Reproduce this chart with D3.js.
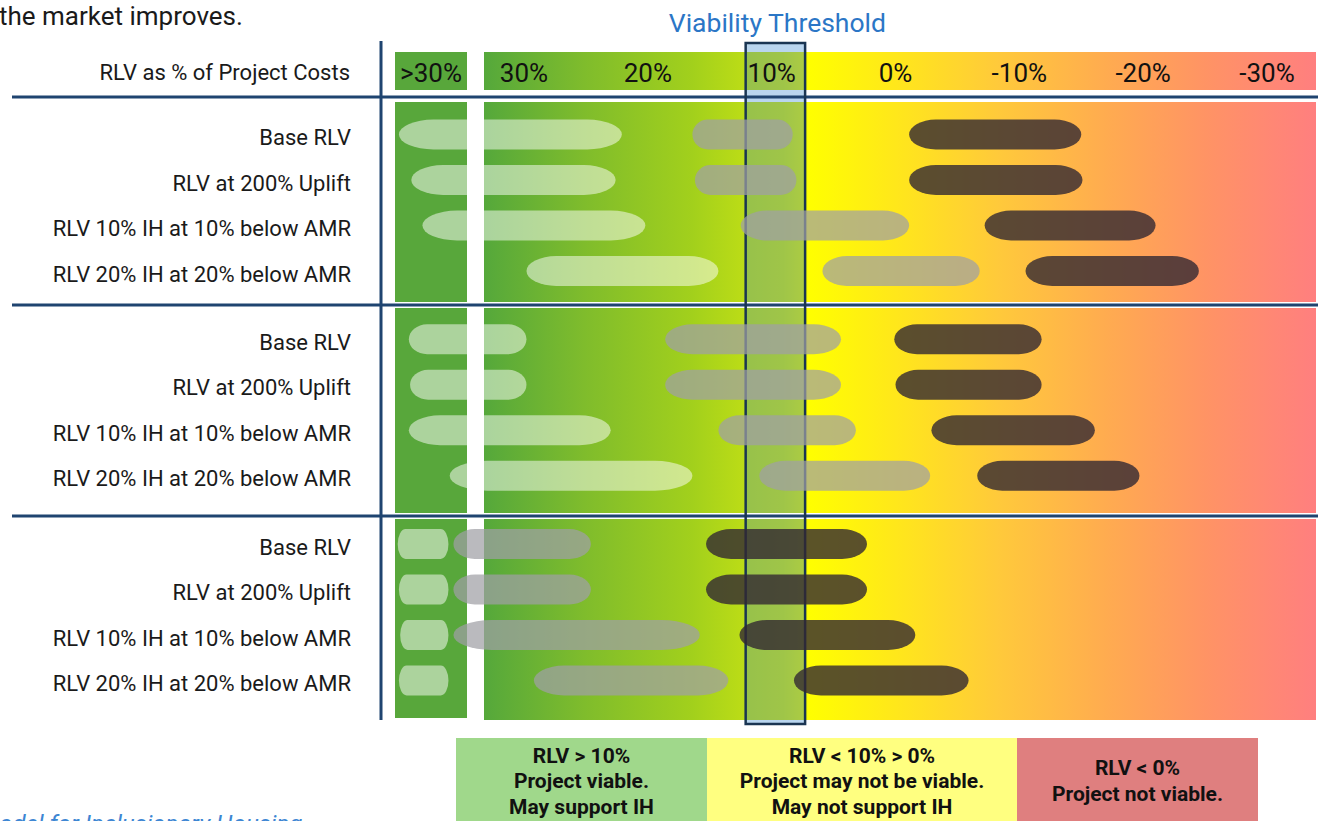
<!DOCTYPE html>
<html>
<head>
<meta charset="utf-8">
<script src="https://cdn.jsdelivr.net/npm/d3@7"></script>
<style>
  body { margin: 0; background: #fff; overflow: hidden; }
  svg { display: block; font-family: Roboto, "Noto Sans", sans-serif; }
</style>
</head>
<body>
<svg id="chart" width="1318" height="821"></svg>
<script>
// ---- data -------------------------------------------------------------
const rowLabels = [
  "Base RLV",
  "RLV at 200% Uplift",
  "RLV 10% IH at 10% below AMR",
  "RLV 20% IH at 20% below AMR"
];
const groupCount = 3;

const tickValues = [30, 20, 10, 0, -10, -20, -30];
const tickLabels = ["30%", "20%", "10%", "0%", "-10%", "-20%", "-30%"];
const overflowLabel = ">30%";
const headerLabel = "RLV as % of Project Costs";

const thresholdTitle = "Viability Threshold";
const thresholdBand = [12.1, 7.3];   // shaded band around the 10% threshold

// RLV ranges [high, low] in % of project costs, one entry per row (3 groups x 4 rows)
const lightRanges = [
  [40.1, 22.1], [39.1, 22.6], [38.2, 20.2], [29.8, 14.3],
  [39.3, 29.8], [39.2, 29.8], [39.3, 23.0], [36.0, 16.4],
  [40.2, 36.1], [40.1, 36.1], [40.0, 36.1], [40.1, 36.1]
];
const greyRanges = [
  [16.4, 8.3], [16.2, 8.0], [12.5, -1.1], [5.9, -6.8],
  [18.6, 4.4], [18.6, 4.4], [14.3, 3.2], [11.0, -2.8],
  [35.7, 24.6], [35.7, 24.6], [35.7, 15.8], [29.2, 13.5]
];
const darkRanges = [
  [-1.1, -15.0], [-1.1, -15.1], [-7.2, -21.0], [-10.5, -24.5],
  [0.1, -11.8], [0.0, -11.8], [-2.9, -16.1], [-6.6, -19.7],
  [15.3, 2.3], [15.3, 2.3], [12.6, -1.6], [8.2, -5.9]
];

const legendLines = [
  ["RLV > 10%", "Project viable.", "May support IH"],
  ["RLV < 10% > 0%", "Project may not be viable.", "May not support IH"],
  ["RLV < 0%", "Project not viable."]
];
const legendColors = ["#a0d88b", "#ffff80", "#df7f7f"];

// ---- layout -----------------------------------------------------------
const svg = d3.select("#chart");
const W = 1318;
const navy = "#1f4470";

const headerTop = 52, headerBottom = 90;
const bodyTop = 102, bodyBottom = 720;
const colLeft = 395, colRight = 467;      // ">30%" column
const gradLeft = 484, gradRight = 1316;   // graduated scale panel

const x = d3.scaleLinear().domain([30, -30]).range([524, 1267]);
const slot = i => Math.floor(i / 4) * 4.5 + (i % 4);
const y = d3.scaleLinear().domain([0, 12]).range([134.5, 680.5]);
const rows = d3.range(groupCount * rowLabels.length);

// gradient for the scale panel
const defs = svg.append("defs");
const grad = defs.append("linearGradient")
  .attr("id", "scaleGrad")
  .attr("gradientUnits", "userSpaceOnUse")
  .attr("x1", gradLeft).attr("x2", gradRight).attr("y1", 0).attr("y2", 0);
[
  [0.00, "#55a83b"], [0.12, "#7fbc2c"], [0.25, "#a2d01c"], [0.36, "#cfe612"],
  [0.385, "#ecf406"], [0.39, "#ffff00"], [0.50, "#ffe61c"], [0.62, "#ffc93b"],
  [0.75, "#ffab50"], [0.87, "#ff9365"], [1.00, "#ff7f7f"]
].forEach(([o, c]) => grad.append("stop").attr("offset", o).attr("stop-color", c));

const clip = defs.append("clipPath").attr("id", "panelClip");
clip.append("rect").attr("x", gradLeft).attr("y", headerTop)
  .attr("width", gradRight - gradLeft).attr("height", headerBottom - headerTop);
clip.append("rect").attr("x", gradLeft).attr("y", bodyTop)
  .attr("width", gradRight - gradLeft).attr("height", bodyBottom - bodyTop);

// threshold band backing (visible between the panels)
const bandX0 = x(thresholdBand[0]), bandX1 = x(thresholdBand[1]);
svg.append("rect")
  .attr("x", bandX0).attr("y", 42)
  .attr("width", bandX1 - bandX0).attr("height", 724 - 42)
  .attr("fill", "#b9d5ee");

// ">30%" column
svg.append("rect").attr("x", colLeft).attr("y", headerTop)
  .attr("width", colRight - colLeft).attr("height", headerBottom - headerTop)
  .attr("fill", "#58a73b");
svg.append("rect").attr("x", colLeft).attr("y", bodyTop)
  .attr("width", colRight - colLeft).attr("height", 718 - bodyTop)
  .attr("fill", "#58a73b");

// graduated panel (header strip + body)
svg.append("rect").attr("x", gradLeft).attr("y", headerTop)
  .attr("width", gradRight - gradLeft).attr("height", headerBottom - headerTop)
  .attr("fill", "url(#scaleGrad)");
svg.append("rect").attr("x", gradLeft).attr("y", bodyTop)
  .attr("width", gradRight - gradLeft).attr("height", bodyBottom - bodyTop)
  .attr("fill", "url(#scaleGrad)");

// threshold band tint over the panel
svg.append("rect")
  .attr("clip-path", "url(#panelClip)")
  .attr("x", bandX0).attr("y", 42)
  .attr("width", bandX1 - bandX0).attr("height", 724 - 42)
  .attr("fill", "rgb(123,172,114)").attr("fill-opacity", 0.57);

// header labels
svg.append("text")
  .attr("x", (colLeft + colRight) / 2).attr("y", 73)
  .attr("text-anchor", "middle").attr("dominant-baseline", "central")
  .attr("font-size", 26).attr("fill", "#111")
  .text(overflowLabel);

svg.append("g").selectAll("text")
  .data(tickValues)
  .join("text")
  .attr("x", d => x(d)).attr("y", 73)
  .attr("text-anchor", "middle").attr("dominant-baseline", "central")
  .attr("font-size", 26).attr("fill", "#111")
  .text((d, i) => tickLabels[i]);

svg.append("text")
  .attr("x", 350).attr("y", 72)
  .attr("text-anchor", "end").attr("dominant-baseline", "central")
  .attr("font-size", 22).attr("fill", "#1a1a1a")
  .text(headerLabel);

// grid dividers
const hLines = [97, 305, 516];
svg.append("g").selectAll("line.under")
  .data(hLines.slice(1)).join("line")
  .attr("x1", 12).attr("x2", W).attr("y1", d => d).attr("y2", d => d)
  .attr("stroke", "#fff").attr("stroke-width", 6);
svg.append("g").selectAll("line")
  .data(hLines).join("line")
  .attr("x1", 12).attr("x2", W).attr("y1", d => d).attr("y2", d => d)
  .attr("stroke", navy).attr("stroke-width", 3);
svg.append("line")
  .attr("x1", 381).attr("x2", 381).attr("y1", 41).attr("y2", 720)
  .attr("stroke", navy).attr("stroke-width", 3);

// threshold band outline
svg.append("rect")
  .attr("x", bandX0).attr("y", 43)
  .attr("width", bandX1 - bandX0).attr("height", 724 - 43)
  .attr("fill", "none").attr("stroke", "#1a3552").attr("stroke-width", 2.5);

svg.append("text")
  .attr("x", (bandX0 + bandX1) / 2 + 2).attr("y", 22)
  .attr("text-anchor", "middle").attr("dominant-baseline", "central")
  .attr("font-size", 26.5).attr("fill", "#2b76c6")
  .text(thresholdTitle);

// RLV range pills
const pillH = 30;
function drawPills(ranges, fill, opacity) {
  svg.append("g").selectAll("rect")
    .data(ranges)
    .join("rect")
    .attr("x", d => x(d[0]))
    .attr("y", (d, i) => y(slot(i)) - pillH / 2)
    .attr("width", d => x(d[1]) - x(d[0]))
    .attr("height", pillH)
    .attr("rx", d => Math.min(0.155 * (x(d[1]) - x(d[0])), 42))
    .attr("ry", pillH / 2)
    .attr("fill", fill).attr("fill-opacity", opacity);
}
drawPills(lightRanges, "#ffffff", 0.5);
drawPills(greyRanges, "rgb(160,160,165)", 0.72);
drawPills(darkRanges, "rgb(50,40,50)", 0.8);

// row labels
svg.append("g").selectAll("text")
  .data(rows)
  .join("text")
  .attr("x", 351)
  .attr("y", i => y(slot(i)) + 3)
  .attr("text-anchor", "end").attr("dominant-baseline", "central")
  .attr("font-size", 22).attr("fill", "#1a1a1a")
  .text(i => rowLabels[i % rowLabels.length]);

// legend
const legendEdges = [456, 707, 1017, 1258];
const lg = svg.append("g").selectAll("g")
  .data(legendLines)
  .join("g");
lg.append("rect")
  .attr("x", (d, i) => legendEdges[i]).attr("y", 738)
  .attr("width", (d, i) => legendEdges[i + 1] - legendEdges[i]).attr("height", 90)
  .attr("fill", (d, i) => legendColors[i]);
lg.each(function (lines, i) {
  const cx = (legendEdges[i] + legendEdges[i + 1]) / 2;
  const lh = 25.5;
  const cy = 781;
  d3.select(this).selectAll("text")
    .data(lines)
    .join("text")
    .attr("x", cx)
    .attr("y", (d, j) => cy + (j - (lines.length - 1) / 2) * lh)
    .attr("text-anchor", "middle").attr("dominant-baseline", "central")
    .attr("font-size", 21).attr("font-weight", 700).attr("fill", "#111")
    .text(d => d);
});

// surrounding report text
svg.append("text")
  .attr("x", -1).attr("y", 25)
  .attr("font-size", 26).attr("fill", "#1a1a1a")
  .text("the market improves.");
svg.append("text")
  .attr("x", -21).attr("y", 832)
  .attr("font-size", 24).attr("font-style", "italic").attr("fill", "#3d86d3")
  .text("Model for Inclusionary Housing");
</script>
</body>
</html>
